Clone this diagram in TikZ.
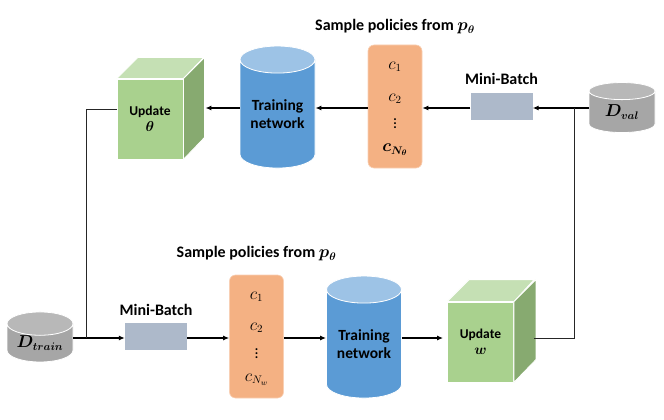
\documentclass[tikz,border=0pt]{standalone}
\usepackage{amsmath,bm}
\usepackage{fontspec}
\setmainfont{Carlito}
\usetikzlibrary{shapes.geometric,arrows.meta,calc}
\definecolor{gfront}{HTML}{A9D18E}
\definecolor{gtop}{HTML}{C5E0B4}
\definecolor{gside}{HTML}{87AA70}
\definecolor{bbody}{HTML}{5B9BD5}
\definecolor{btop}{HTML}{9DC3E6}
\definecolor{orng}{HTML}{F4B183}
\definecolor{mbc}{HTML}{ADB9CA}
\definecolor{gybody}{HTML}{A6A6A6}
\definecolor{gytop}{HTML}{B8B8B8}
\newcommand{\mydots}{\vbox{\baselineskip3.6pt\lineskiplimit0pt\hbox{\fontsize{13}{13}\selectfont\bfseries.}\hbox{\fontsize{13}{13}\selectfont\bfseries.}\hbox{\fontsize{13}{13}\selectfont\bfseries.}}}
\begin{document}
\begin{tikzpicture}[x=1pt,y=-1pt,
  cyl/.style={cylinder, shape border rotate=90, aspect=0.5, draw=white, line width=0.8pt,
    cylinder uses custom fill, inner sep=0pt},
  netcyl/.style={cyl, cylinder body fill=bbody, cylinder end fill=btop,
    minimum width=75pt, minimum height=122pt, font=\fontsize{15.5}{18}\selectfont\bfseries, align=center},
  datcyl/.style={cyl, cylinder body fill=gybody, cylinder end fill=gytop,
    minimum width=66pt, minimum height=50pt, font=\fontsize{16}{18}\selectfont},
  front/.style={rectangle, fill=gfront, draw=white, line width=0.8pt, inner sep=0pt,
    minimum width=66pt, minimum height=80pt, align=center, font=\fontsize{13.5}{16}\selectfont\bfseries},
  topface/.style={fill=gtop, draw=white, line width=0.8pt},
  sideface/.style={fill=gside, draw=white, line width=0.8pt},
  obox/.style={rectangle, rounded corners=6pt, fill=orng, draw=orng!60!white, line width=0.6pt,
    minimum width=54pt, minimum height=123pt},
  mbox/.style={rectangle, fill=mbc, inner sep=0pt, minimum width=62pt, minimum height=27pt},
  lbl/.style={font=\fontsize{16}{18}\selectfont\bfseries, inner sep=1pt},
  cmath/.style={font=\fontsize{16}{18}\selectfont, inner sep=0pt},
  arr/.style={line width=1.4pt, -{Latex[length=6pt,width=5pt]}},
  fb/.style={line width=0.8pt, draw=black!85}
]
\useasboundingbox (0,0) rectangle (664,420);
\coordinate (rowt) at (0,108);
\coordinate (rowb) at (0,338);

% ---------- top row ----------
\node[front] (up1) at (150,119) {Update\\[0pt]{\fontsize{14}{14}\selectfont$\boldsymbol{\theta}$}};
\draw[topface] (up1.north west) -- ++(21pt,21pt) -- ++(66pt,0pt) -- (up1.north east) -- cycle;
\draw[sideface] (up1.north east) -- ++(21pt,21pt) -- ++(0pt,-80pt) -- (up1.south east) -- cycle;
\coordinate (rf1) at ($(up1.east)+(22pt,0pt)$);

\node[netcyl] (tn1) at (277.5,114) {Training\\network};

\node[obox] (ob1) at (395,106.5) {};
\node[cmath] (c11) at ($(ob1.north)+(0,22)$) {$c_1$};
\node[cmath] (c12) at ($(ob1.north)+(0,54)$) {$c_2$};
\node[cmath] (c13) at ($(ob1.north)+(0,79)$) {\mydots};
\node[cmath] (c14) at ($(ob1.north)+(0,105)$) {$\boldsymbol{c_{N_\theta}}$};
\node[lbl] (sp1) at ($(ob1.north)+(0,-18)$) {Sample policies from $\boldsymbol{p_\theta}$};

\node[mbox] (mb1) at (501.5,106) {};
\node[lbl] (mbl1) at ($(mb1.north)+(0,-13)$) {Mini-Batch};

\node[datcyl] (dval) at (622,112) {$\boldsymbol{D_{val}}$};

\draw[arr] (dval.west |- rowt) -- (mb1.east |- rowt);
\draw[arr] (mb1.west |- rowt) -- (ob1.east |- rowt);
\draw[arr] (ob1.west |- rowt) -- (tn1.east |- rowt);
\draw[arr] (tn1.west |- rowt) -- (rf1 |- rowt);

% ---------- bottom row ----------
\node[datcyl] (dtr) at (40,343) {$\boldsymbol{D_{train}}$};

\node[mbox] (mb2) at (156,336.5) {};
\node[lbl] (mbl2) at ($(mb2.north)+(0,-13)$) {Mini-Batch};

\node[obox] (ob2) at (256.5,336.5) {};
\node[cmath] (c21) at ($(ob2.north)+(0,22)$) {$c_1$};
\node[cmath] (c22) at ($(ob2.north)+(0,53)$) {$c_2$};
\node[cmath] (c23) at ($(ob2.north)+(0,79)$) {\mydots};
\node[cmath] (c24) at ($(ob2.north)+(0,105)$) {$c_{N_w}$};
\node[lbl] (sp2) at ($(ob2.north)+(0,-21)$) {Sample policies from $\boldsymbol{p_\theta}$};

\node[netcyl] (tn2) at (364,344) {Training\\network};

\node[front] (uw) at (480.5,342) {Update\\[0pt]{\fontsize{14}{14}\selectfont$\boldsymbol{w}$}};
\draw[topface] (uw.north west) -- ++(22pt,22pt) -- ++(65pt,0pt) -- (uw.north east) -- cycle;
\draw[sideface] (uw.north east) -- ++(22pt,22pt) -- ++(0pt,-80pt) -- (uw.south east) -- cycle;
\coordinate (rfw) at ($(uw.east)+(20pt,4pt)$);

\draw[arr] (dtr.east |- rowb) -- (mb2.west |- rowb);
\draw[arr] (mb2.east |- rowb) -- (ob2.west |- rowb);
\draw[arr] (ob2.east |- rowb) -- (tn2.west |- rowb);
\draw[arr] (tn2.east |- rowb) -- ([xshift=-4pt]uw.west |- rowb);

% ---------- feedback lines ----------
\coordinate (jv) at ([xshift=-14pt]dval.west |- rowt);
\draw[fb] (rfw) -| (jv);
\coordinate (lf1) at ([yshift=10pt]up1.west);
\coordinate (jt) at ([xshift=13pt]dtr.east |- rowb);
\draw[fb] (jt) |- (lf1);
\end{tikzpicture}
\end{document}
